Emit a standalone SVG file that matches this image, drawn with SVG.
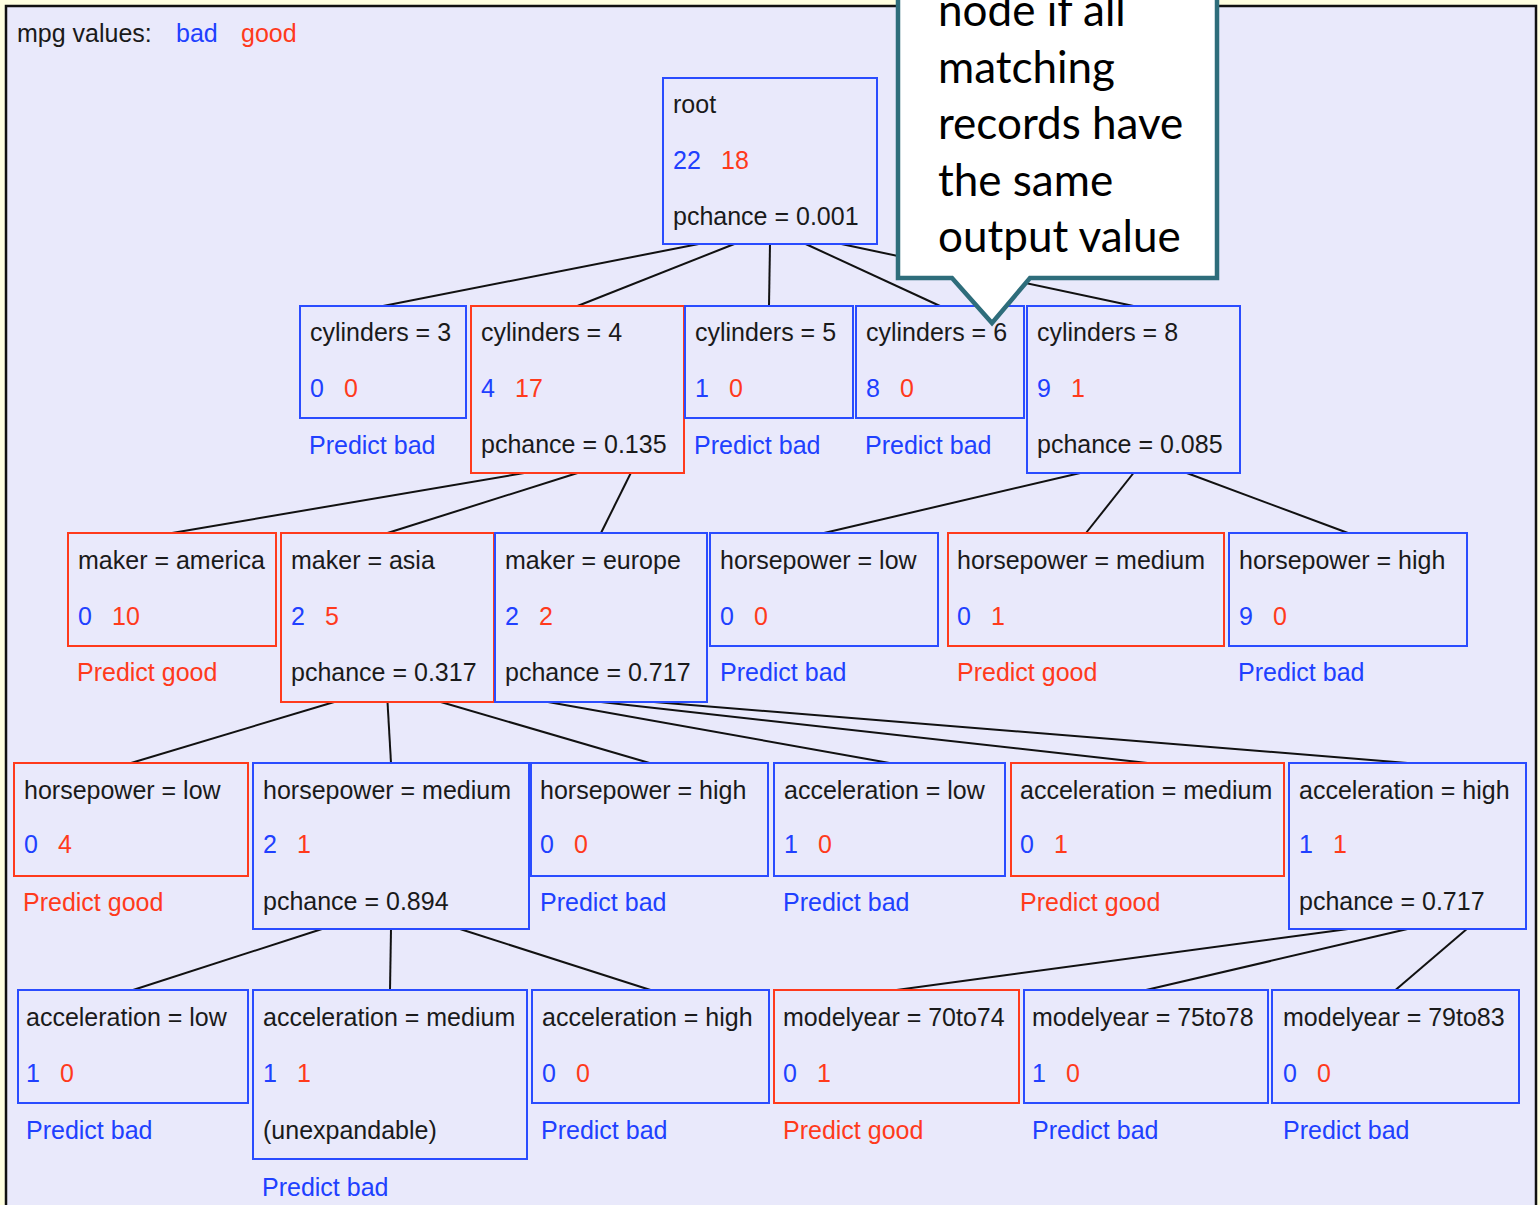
<svg xmlns="http://www.w3.org/2000/svg" width="1540" height="1205" viewBox="0 0 1540 1205">
  <style>
    .t { font-family: "Liberation Sans", Arial, sans-serif; font-size: 25px; fill: #1a1a1a; }
    .b { fill: #2040ff; }
    .r { fill: #ff3a1c; }
    .nb { fill: none; stroke: #2a4cff; stroke-width: 2; }
    .nr { fill: none; stroke: #ff3a1c; stroke-width: 2; }
    .edge { stroke: #111; stroke-width: 2; fill: none; }
    .call { fill: #ffffff; stroke: #2e6d7b; stroke-width: 4.5; stroke-linejoin: miter; }
    .ct { font-family: "Lato", "Open Sans", sans-serif; font-size: 44px; fill: #000; }
  </style>

  <!-- panel background and frame -->
  <rect x="0" y="0" width="1540" height="1205" fill="#ffffe0"/>
  <rect x="6" y="6" width="1530" height="1215" fill="#e9e9fb" stroke="#111" stroke-width="2.5"/>

  <!-- legend -->
  <g id="legend">
    <text class="t" x="17" y="42">mpg values:</text>
    <text class="t b" x="176" y="42">bad</text>
    <text class="t r" x="241" y="42">good</text>
  </g>

  <!-- tree edges: parent bottom anchor to child top centre -->
  <g id="connectors" class="edge">
    <line x1="698.7" y1="244" x2="383" y2="306"/>
    <line x1="734.3" y1="244" x2="577.5" y2="306"/>
    <line x1="770" y1="244" x2="769" y2="306"/>
    <line x1="805.7" y1="244" x2="940" y2="306"/>
    <line x1="841.3" y1="244" x2="1133.5" y2="306"/>

    <line x1="524.2" y1="473" x2="172" y2="533"/>
    <line x1="577.5" y1="473" x2="387.5" y2="533"/>
    <line x1="630.8" y1="473" x2="601" y2="533"/>

    <line x1="1080.2" y1="473" x2="824" y2="533"/>
    <line x1="1133.5" y1="473" x2="1086" y2="533"/>
    <line x1="1186.8" y1="473" x2="1348" y2="533"/>

    <line x1="334.2" y1="702" x2="131" y2="763"/>
    <line x1="387.5" y1="702" x2="391" y2="763"/>
    <line x1="440.8" y1="702" x2="649.5" y2="763"/>

    <line x1="548" y1="702" x2="889.5" y2="763"/>
    <line x1="601" y1="702" x2="1147.5" y2="763"/>
    <line x1="654" y1="702" x2="1407.5" y2="763"/>

    <line x1="322" y1="929" x2="133" y2="990"/>
    <line x1="391" y1="929" x2="390" y2="990"/>
    <line x1="460" y1="929" x2="650.5" y2="990"/>

    <line x1="1348.2" y1="929" x2="896.5" y2="990"/>
    <line x1="1407.5" y1="929" x2="1146" y2="990"/>
    <line x1="1466.8" y1="929" x2="1395.5" y2="990"/>
  </g>

  <!-- level 0 -->
  <g id="root">
    <rect class="nb" x="663" y="78" width="214" height="166"/>
    <text class="t" x="673" y="113">root</text>
    <text class="t b" x="673" y="169">22</text><text class="t r" x="721" y="169">18</text>
    <text class="t" x="673" y="225">pchance = 0.001</text>
  </g>

  <!-- level 1 -->
  <g id="cyl3">
    <rect class="nb" x="300" y="306" width="166" height="112"/>
    <text class="t" x="310" y="341">cylinders = 3</text>
    <text class="t b" x="310" y="397">0</text><text class="t r" x="344" y="397">0</text>
    <text class="t b" x="309" y="454">Predict bad</text>
  </g>
  <g id="cyl4">
    <rect class="nr" x="471" y="306" width="213" height="167"/>
    <text class="t" x="481" y="341">cylinders = 4</text>
    <text class="t b" x="481" y="397">4</text><text class="t r" x="515" y="397">17</text>
    <text class="t" x="481" y="453">pchance = 0.135</text>
  </g>
  <g id="cyl5">
    <rect class="nb" x="685" y="306" width="168" height="112"/>
    <text class="t" x="695" y="341">cylinders = 5</text>
    <text class="t b" x="695" y="397">1</text><text class="t r" x="729" y="397">0</text>
    <text class="t b" x="694" y="454">Predict bad</text>
  </g>
  <g id="cyl6">
    <rect class="nb" x="856" y="306" width="168" height="112"/>
    <text class="t" x="866" y="341">cylinders = 6</text>
    <text class="t b" x="866" y="397">8</text><text class="t r" x="900" y="397">0</text>
    <text class="t b" x="865" y="454">Predict bad</text>
  </g>
  <g id="cyl8">
    <rect class="nb" x="1027" y="306" width="213" height="167"/>
    <text class="t" x="1037" y="341">cylinders = 8</text>
    <text class="t b" x="1037" y="397">9</text><text class="t r" x="1071" y="397">1</text>
    <text class="t" x="1037" y="453">pchance = 0.085</text>
  </g>

  <!-- level 2 -->
  <g id="maker-america">
    <rect class="nr" x="68" y="533" width="208" height="113"/>
    <text class="t" x="78" y="569">maker = america</text>
    <text class="t b" x="78" y="625">0</text><text class="t r" x="112" y="625">10</text>
    <text class="t r" x="77" y="681">Predict good</text>
  </g>
  <g id="maker-asia">
    <rect class="nr" x="281" y="533" width="213" height="169"/>
    <text class="t" x="291" y="569">maker = asia</text>
    <text class="t b" x="291" y="625">2</text><text class="t r" x="325" y="625">5</text>
    <text class="t" x="291" y="681">pchance = 0.317</text>
  </g>
  <g id="maker-europe">
    <rect class="nb" x="495" y="533" width="212" height="169"/>
    <text class="t" x="505" y="569">maker = europe</text>
    <text class="t b" x="505" y="625">2</text><text class="t r" x="539" y="625">2</text>
    <text class="t" x="505" y="681">pchance = 0.717</text>
  </g>
  <g id="c8-hp-low">
    <rect class="nb" x="710" y="533" width="228" height="113"/>
    <text class="t" x="720" y="569">horsepower = low</text>
    <text class="t b" x="720" y="625">0</text><text class="t r" x="754" y="625">0</text>
    <text class="t b" x="720" y="681">Predict bad</text>
  </g>
  <g id="c8-hp-medium">
    <rect class="nr" x="948" y="533" width="276" height="113"/>
    <text class="t" x="957" y="569">horsepower = medium</text>
    <text class="t b" x="957" y="625">0</text><text class="t r" x="991" y="625">1</text>
    <text class="t r" x="957" y="681">Predict good</text>
  </g>
  <g id="c8-hp-high">
    <rect class="nb" x="1229" y="533" width="238" height="113"/>
    <text class="t" x="1239" y="569">horsepower = high</text>
    <text class="t b" x="1239" y="625">9</text><text class="t r" x="1273" y="625">0</text>
    <text class="t b" x="1238" y="681">Predict bad</text>
  </g>

  <!-- level 3 -->
  <g id="asia-hp-low">
    <rect class="nr" x="14" y="763" width="234" height="113"/>
    <text class="t" x="24" y="799">horsepower = low</text>
    <text class="t b" x="24" y="853">0</text><text class="t r" x="58" y="853">4</text>
    <text class="t r" x="23" y="911">Predict good</text>
  </g>
  <g id="asia-hp-medium">
    <rect class="nb" x="253" y="763" width="276" height="166"/>
    <text class="t" x="263" y="799">horsepower = medium</text>
    <text class="t b" x="263" y="853">2</text><text class="t r" x="297" y="853">1</text>
    <text class="t" x="263" y="910">pchance = 0.894</text>
  </g>
  <g id="asia-hp-high">
    <rect class="nb" x="531" y="763" width="237" height="113"/>
    <text class="t" x="540" y="799">horsepower = high</text>
    <text class="t b" x="540" y="853">0</text><text class="t r" x="574" y="853">0</text>
    <text class="t b" x="540" y="911">Predict bad</text>
  </g>
  <g id="europe-acc-low">
    <rect class="nb" x="774" y="763" width="231" height="113"/>
    <text class="t" x="784" y="799">acceleration = low</text>
    <text class="t b" x="784" y="853">1</text><text class="t r" x="818" y="853">0</text>
    <text class="t b" x="783" y="911">Predict bad</text>
  </g>
  <g id="europe-acc-medium">
    <rect class="nr" x="1011" y="763" width="273" height="113"/>
    <text class="t" x="1020" y="799">acceleration = medium</text>
    <text class="t b" x="1020" y="853">0</text><text class="t r" x="1054" y="853">1</text>
    <text class="t r" x="1020" y="911">Predict good</text>
  </g>
  <g id="europe-acc-high">
    <rect class="nb" x="1289" y="763" width="237" height="166"/>
    <text class="t" x="1299" y="799">acceleration = high</text>
    <text class="t b" x="1299" y="853">1</text><text class="t r" x="1333" y="853">1</text>
    <text class="t" x="1299" y="910">pchance = 0.717</text>
  </g>

  <!-- level 4 -->
  <g id="hpmed-acc-low">
    <rect class="nb" x="18" y="990" width="230" height="113"/>
    <text class="t" x="26" y="1026">acceleration = low</text>
    <text class="t b" x="26" y="1082">1</text><text class="t r" x="60" y="1082">0</text>
    <text class="t b" x="26" y="1139">Predict bad</text>
  </g>
  <g id="hpmed-acc-medium">
    <rect class="nb" x="253" y="990" width="274" height="169"/>
    <text class="t" x="263" y="1026">acceleration = medium</text>
    <text class="t b" x="263" y="1082">1</text><text class="t r" x="297" y="1082">1</text>
    <text class="t" x="263" y="1139">(unexpandable)</text>
    <text class="t b" x="262" y="1196">Predict bad</text>
  </g>
  <g id="hpmed-acc-high">
    <rect class="nb" x="532" y="990" width="237" height="113"/>
    <text class="t" x="542" y="1026">acceleration = high</text>
    <text class="t b" x="542" y="1082">0</text><text class="t r" x="576" y="1082">0</text>
    <text class="t b" x="541" y="1139">Predict bad</text>
  </g>
  <g id="my-70to74">
    <rect class="nr" x="774" y="990" width="245" height="113"/>
    <text class="t" x="783" y="1026">modelyear = 70to74</text>
    <text class="t b" x="783" y="1082">0</text><text class="t r" x="817" y="1082">1</text>
    <text class="t r" x="783" y="1139">Predict good</text>
  </g>
  <g id="my-75to78">
    <rect class="nb" x="1024" y="990" width="244" height="113"/>
    <text class="t" x="1032" y="1026">modelyear = 75to78</text>
    <text class="t b" x="1032" y="1082">1</text><text class="t r" x="1066" y="1082">0</text>
    <text class="t b" x="1032" y="1139">Predict bad</text>
  </g>
  <g id="my-79to83">
    <rect class="nb" x="1272" y="990" width="247" height="113"/>
    <text class="t" x="1283" y="1026">modelyear = 79to83</text>
    <text class="t b" x="1283" y="1082">0</text><text class="t r" x="1317" y="1082">0</text>
    <text class="t b" x="1283" y="1139">Predict bad</text>
  </g>

  <!-- speech-bubble annotation pointing at the cylinders = 6 leaf -->
  <g id="callout">
    <path class="call" d="M898,-10 L1217,-10 L1217,278 L1030,278 L992,323 L952,278 L898,278 Z"/>
    <text class="ct" x="938" y="26">node if all</text>
    <text class="ct" x="938" y="83">matching</text>
    <text class="ct" x="938" y="139">records have</text>
    <text class="ct" x="938" y="196">the same</text>
    <text class="ct" x="938" y="252">output value</text>
  </g>
</svg>
